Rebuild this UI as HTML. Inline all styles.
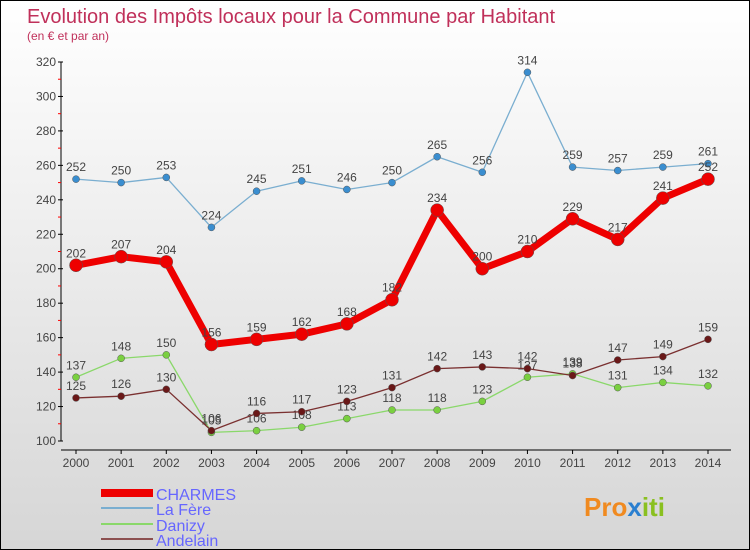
<!DOCTYPE html>
<html><head><meta charset="utf-8"><style>
body{margin:0}
#c{width:748px;height:548px;border:1px solid #000;background:linear-gradient(#fff,#d6d6d6);position:relative;font-family:"Liberation Sans",sans-serif;overflow:hidden}
</style></head><body>
<div id="c">
<svg id="s" width="748" height="548" xmlns="http://www.w3.org/2000/svg">
<text x="26" y="22" font-size="20" fill="#c0305a">Evolution des Impôts locaux pour la Commune par Habitant</text>
<text x="26" y="39" font-size="12" fill="#c0305a">(en € et par an)</text>
<g id="axes"></g><g id="series"></g>
<g>
<rect x="100" y="488" width="52" height="8" fill="#e00"/>
<text x="155" y="499" font-size="16" fill="#6666ff">CHARMES</text>
<line x1="100" y1="507" x2="152" y2="507" stroke="#7aaed0" stroke-width="2"/>
<text x="155" y="514" font-size="16" fill="#6666ff">La Fère</text>
<line x1="100" y1="523" x2="152" y2="523" stroke="#8ad86a" stroke-width="2"/>
<text x="155" y="530" font-size="16" fill="#6666ff">Danizy</text>
<line x1="100" y1="538" x2="152" y2="538" stroke="#8c5050" stroke-width="2"/>
<text x="155" y="545" font-size="16" fill="#6666ff">Andelain</text>
</g>
<text x="583" y="515" font-size="26" font-weight="bold" fill="#f08a20">Pro<tspan fill="#2a7fd0">x</tspan><tspan fill="#8ac020">iti</tspan></text>
</svg></div>
<script>
const years=[2000,2001,2002,2003,2004,2005,2006,2007,2008,2009,2010,2011,2012,2013,2014];
const charmes=[202,207,204,156,159,162,168,182,234,200,210,229,217,241,252];
const laFere=[252,250,253,224,245,251,246,250,265,256,314,259,257,259,261];
const danizy=[137,148,150,105,106,108,113,118,118,123,137,139,131,134,132];
const andelain=[125,126,130,106,116,117,123,131,142,143,142,138,147,149,159];
const yTicks=[100,120,140,160,180,200,220,240,260,280,300,320];
const NS="http://www.w3.org/2000/svg";
const X=i=>75+i*(707-75)/14;
const Y=v=>440-(v-100)*(440-61)/220;
function mk(t,a,p){const e=document.createElementNS(NS,t);for(const k in a)e.setAttribute(k,a[k]);p.appendChild(e);return e;}
const ax=document.getElementById('axes');
const yl=mk('line',{x1:60,y1:Y(320),x2:60,y2:Y(100),stroke:'#000'},ax);


mk('line',{x1:60,y1:449,x2:730,y2:449,stroke:'#000'},ax);
yTicks.forEach((v,k)=>{
 mk('line',{x1:57,y1:Y(v),x2:62,y2:Y(v),stroke:'#000'},ax);
 if(k<yTicks.length-1) mk('line',{x1:57,y1:Y(v+10),x2:60,y2:Y(v+10),stroke:'#f00'},ax);
 const t=mk('text',{x:55,y:Y(v)+4,'font-size':12,'text-anchor':'end',fill:'#444'},ax);t.textContent=v;
 
 
});
years.forEach((y,i)=>{
 mk('line',{x1:X(i),y1:449,x2:X(i),y2:453,stroke:'#000'},ax);
 const t=mk('text',{x:X(i),y:466,'font-size':12,'text-anchor':'middle',fill:'#444'},ax);t.textContent=y;
 
 
});
const sg=document.getElementById('series');
function draw(d,col,dot,w,r,name){
 const g=mk('g',{},sg);
 
 
 mk('polyline',{points:d.map((v,i)=>X(i)+','+Y(v)).join(' '),fill:'none',stroke:col,'stroke-width':w,'stroke-linejoin':'round'},g);
 d.forEach((v,i)=>{
  const c=mk('circle',{cx:X(i),cy:Y(v),r:r,fill:dot,stroke:'#555','stroke-width':0.5},g);
  
  
  const t=mk('text',{x:X(i),y:Y(v)-8,'font-size':12,'text-anchor':'middle',fill:'#444'},g);t.textContent=v;
 });
}
draw(laFere,'#7aaed0','#3a8ed0',1.3,3.5,'series-la-fere');
draw(danizy,'#8ad86a','#7ad040',1.3,3.5,'series-danizy');
draw(andelain,'#7a3030','#6a1818',1.3,3.5,'series-andelain');
draw(charmes,'#e00','#e00',7,6.5,'series-charmes');
</script>
</body></html>
